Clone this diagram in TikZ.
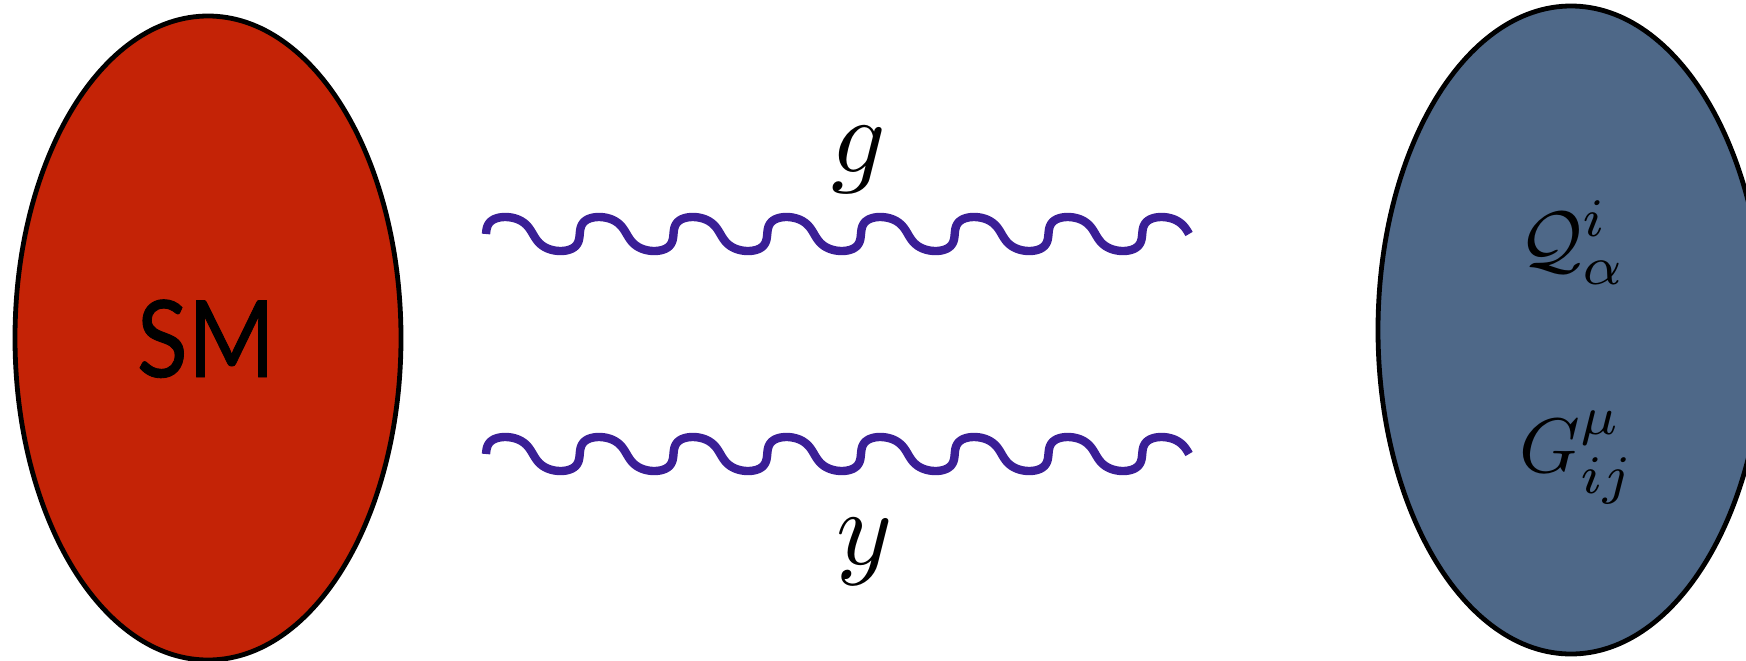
\documentclass[tikz,border=0pt]{standalone}
\usepackage{fontspec}
\newfontfamily\smfont[FakeBold=0.8]{Lato}
\definecolor{smred}{RGB}{196,35,6}
\definecolor{hidblue}{RGB}{78,104,136}
\definecolor{wavecol}{RGB}{58,30,150}
\tikzset{
  blob/.style={draw=black, line width=1.2mm},
  wave/.style={draw=wavecol, line width=2.1mm, line join=round},
  biglbl/.style={scale=7.6, inner sep=0pt},
  inlbl/.style={scale=5.5, inner sep=0pt, anchor=base west},
}
\begin{document}
\begin{tikzpicture}[x=0.25mm, y=-0.25mm]
\useasboundingbox (0,0) rectangle (1746,660);
% ellipses
\coordinate (smc) at (208,338);
\coordinate (hc) at (1571,330);
\fill[smred] (smc) ellipse [x radius=193, y radius=322];
\draw[blob] (smc) ellipse [x radius=193, y radius=322];
\fill[hidblue] (hc) ellipse [x radius=193, y radius=324];
\draw[blob] (hc) ellipse [x radius=193, y radius=324];
% labels
\node (sm) [anchor=base, inner sep=0pt, xscale=0.88, font={\fontsize{76}{80}\smfont}] at (206,377) {SM};
\node (q) [inlbl] at (1518,265) {$\mathcal{Q}^i_\alpha$};
\node (gfield) [inlbl] at (1518,472) {$G^\mu_{ij}$};
\node (glbl) [biglbl, anchor=base] at (859,172) {$g$};
\node (ylbl) [biglbl, anchor=base] at (865,564) {$y$};
% wavy lines
\coordinate (w1s) at (486,234);
\coordinate (w1e) at (1189,234);
\coordinate (w2s) at (486,454);
\coordinate (w2e) at (1189,454);
\draw[wave, shift={(w1s)}] plot[domain=0:15*pi, samples=700, variable=\t, smooth]
  ({14.92*\t - 4.2*sin(\t r) - 4.6*sin(2*\t r)}, {-17*sin(\t r)});
\draw[wave, shift={(w2s)}] plot[domain=0:15*pi, samples=700, variable=\t, smooth]
  ({14.92*\t - 4.2*sin(\t r) - 4.6*sin(2*\t r)}, {-17*sin(\t r)});
\end{tikzpicture}
\end{document}
